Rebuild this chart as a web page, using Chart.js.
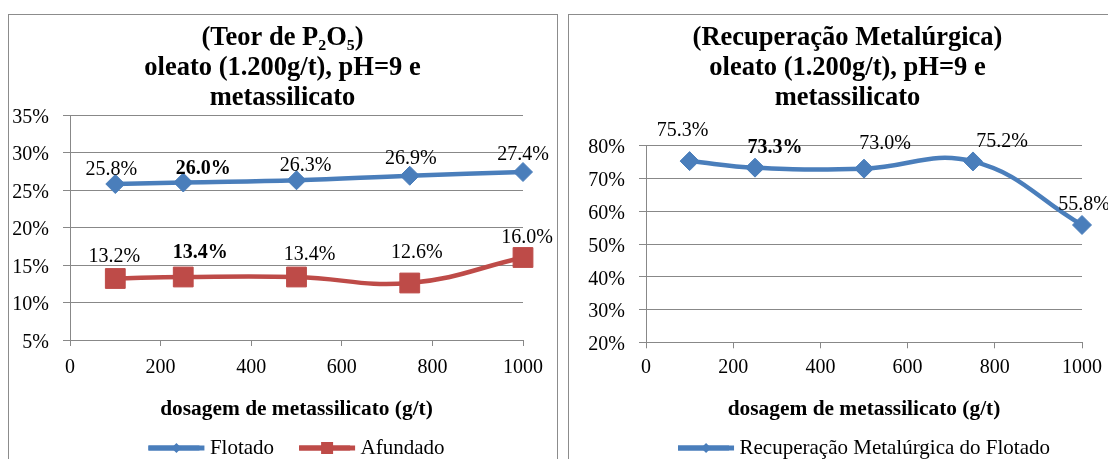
<!DOCTYPE html>
<html>
<head>
<meta charset="utf-8">
<script src="https://cdn.jsdelivr.net/npm/chart.js@4/dist/chart.umd.min.js"></script>
<style>
  html, body { margin: 0; padding: 0; background: #fff; overflow: hidden; width: 1108px; height: 459px; }
  .frame { position: absolute; top: 14px; border: 1px solid #8c8c8c; background: #fff; }
  #frameTeor { left: 8px; width: 548px; height: 470px; }
  #frameRec { left: 568px; width: 557px; height: 470px; }
  canvas { display: block; }
</style>
</head>
<body>
<div class="frame" id="frameTeor"><canvas id="chartTeor" width="547" height="460"></canvas></div>
<div class="frame" id="frameRec"><canvas id="chartRec" width="557" height="460"></canvas></div>
<script>
// dosagem de metassilicato (g/t)
const dosagens = [100, 250, 500, 750, 1000];
// teor de P2O5 (%)
const teorFlotado = [25.8, 26.0, 26.3, 26.9, 27.4];
const teorAfundado = [13.2, 13.4, 13.4, 12.6, 16.0];
// recuperação metalúrgica (%)
const recuperacaoFlotado = [75.3, 73.3, 73.0, 75.2, 55.8];

const xTicks = [0, 200, 400, 600, 800, 1000];
const teorTicks = [5, 10, 15, 20, 25, 30, 35];
const recTicks = [20, 30, 40, 50, 60, 70, 80];

const tituloTeor = ['(Teor de P\u2082O\u2085)', 'oleato (1.200g/t), pH=9 e', 'metassilicato'];
const tituloRec = ['(Recuperação Metalúrgica)', 'oleato (1.200g/t), pH=9 e', 'metassilicato'];
const tituloEixoX = 'dosagem de metassilicato (g/t)';

const SERIF = '"Liberation Serif", "Times New Roman", serif';
const BLUE = '#4A7EBB';
const RED = '#BE4B48';
const GRID = '#888888';

Chart.defaults.font.family = SERIF;
Chart.defaults.color = '#000';

const pts = (xs, ys) => xs.map((x, i) => ({ x, y: ys[i] }));

// value labels above each point ("25.8%"), one highlighted point per series in bold
const valueLabels = {
  id: 'valueLabels',
  afterDatasetsDraw(chart, args, opts) {
    const ctx = chart.ctx;
    chart.data.datasets.forEach((ds, di) => {
      const meta = chart.getDatasetMeta(di);
      const shifts = (opts.shifts && opts.shifts[di]) || [];
      meta.data.forEach((el, i) => {
        const v = ds.data[i].y;
        const s = shifts[i] || [0, -18];
        ctx.save();
        ctx.font = (i === opts.boldIndex ? 'bold ' : '') + opts.size + 'px ' + SERIF;
        ctx.fillStyle = '#000';
        ctx.textAlign = 'center';
        ctx.textBaseline = 'middle';
        ctx.fillText(v.toFixed(1) + '%', el.x + s[0], el.y + s[1]);
        ctx.restore();
      });
    });
  }
};

// legend sample: a thick line with the series marker in the middle
const legendMarkers = {
  id: 'legendMarkers',
  afterDraw(chart, args, opts) {
    const lg = chart.legend;
    if (!lg || !lg.legendHitBoxes) return;
    const ctx = chart.ctx;
    lg.legendHitBoxes.forEach((hb, i) => {
      const item = lg.legendItems[i];
      const ds = chart.data.datasets[item.datasetIndex];
      const cy = hb.top + hb.height / 2;
      const cx = hb.left + opts.length / 2;
      ctx.save();
      ctx.fillStyle = ds.borderColor;
      ctx.fillRect(hb.left, cy - opts.thickness / 2, opts.length, opts.thickness);
      ctx.beginPath();
      if (ds.pointStyle === 'rect') {
        const h = opts.square;
        ctx.rect(cx - h, cy - h, 2 * h, 2 * h);
      } else {
        const h = opts.diamond;
        ctx.moveTo(cx, cy - h); ctx.lineTo(cx + h, cy); ctx.lineTo(cx, cy + h); ctx.lineTo(cx - h, cy);
        ctx.closePath();
      }
      ctx.fill();
      ctx.restore();
    });
  }
};

function lineLegendLabels(chart) {
  return Chart.defaults.plugins.legend.labels.generateLabels(chart).map(l => {
    const ds = chart.data.datasets[l.datasetIndex];
    return Object.assign(l, { fillStyle: ds.borderColor, strokeStyle: ds.borderColor, lineWidth: 0 });
  });
}

function serie(label, data, color, style, radius) {
  return {
    label, data,
    borderColor: color, backgroundColor: color,
    borderWidth: 4.5,
    pointStyle: style, pointRadius: radius, pointHoverRadius: radius,
    pointBackgroundColor: color, pointBorderColor: color, pointBorderWidth: 1,
    tension: 0.42, clip: false
  };
}

function buildOptions(cfg) {
  return {
    responsive: false,
    animation: false,
    events: [],
    layout: { padding: { left: 0, right: 0, top: 0, bottom: 6.5 } },
    scales: {
      x: {
        type: 'linear', min: 0, max: 1000,
        afterBuildTicks: s => { s.ticks = xTicks.map(v => ({ value: v })); },
        afterFit: s => { s.height = cfg.xHeight; },
        grid: { drawOnChartArea: false, drawTicks: true, tickLength: 6, color: GRID, lineWidth: 1 },
        border: { display: true, color: GRID, width: 1 },
        ticks: { padding: cfg.xTickPad, font: { size: 20 }, color: '#000', maxRotation: 0, callback: v => String(v) },
        title: { display: true, text: tituloEixoX, font: { size: 21.4, weight: 'bold', lineHeight: 1 }, color: '#000', padding: { top: 0, bottom: -8 } }
      },
      y: {
        type: 'linear', position: 'left', min: cfg.yTicks[0], max: cfg.yTicks[cfg.yTicks.length - 1],
        afterBuildTicks: s => { s.ticks = cfg.yTicks.map(v => ({ value: v })); },
        afterFit: s => { s.width = cfg.yWidth; },
        grid: { drawOnChartArea: true, drawTicks: true, tickLength: 7, color: GRID, lineWidth: 1 },
        border: { display: true, color: GRID, width: 1 },
        ticks: { padding: 14, labelOffset: 2.5, font: { size: 20 }, color: '#000', callback: v => v + '%' }
      },
      // empty right-hand margin so the title stays centred on the whole frame
      margem: {
        type: 'linear', position: 'right', display: true,
        afterFit: s => { s.width = cfg.rightGap; },
        grid: { display: false, drawTicks: false },
        border: { display: false },
        ticks: { display: false }
      }
    },
    plugins: {
      title: {
        display: true, text: cfg.title, color: '#000',
        font: { size: 26.5, weight: 'bold', lineHeight: 30 / 26.5 },
        padding: { top: 8, bottom: cfg.titlePadB }
      },
      legend: {
        position: 'bottom', fullSize: false,
        labels: { boxWidth: 51, boxHeight: 5, padding: 25, font: { size: 21 }, color: '#000', generateLabels: lineLegendLabels }
      },
      tooltip: { enabled: false },
      valueLabels: { size: 20, boldIndex: 1, shifts: cfg.shifts },
      legendMarkers: { length: 56, thickness: 5, diamond: 5, square: 6 }
    }
  };
}

new Chart(document.getElementById('chartTeor'), {
  type: 'line',
  data: {
    datasets: [
      serie('Flotado', pts(dosagens, teorFlotado), BLUE, 'rectRot', 9.5),
      serie('Afundado', pts(dosagens, teorAfundado), RED, 'rect', 14)
    ]
  },
  options: buildOptions({
    title: tituloTeor, yWidth: 61, rightGap: 33, xHeight: 72.5, xTickPad: 10,
    titlePadB: 2, yTicks: teorTicks,
    shifts: [
      [[-4, -14], [20, -13.5], [9, -15], [1, -17], [0, -17]],
      [[-1, -22], [17, -24], [13, -22], [7, -30], [4, -19.5]]
    ]
  }),
  plugins: [valueLabels, legendMarkers]
});

new Chart(document.getElementById('chartRec'), {
  type: 'line',
  data: {
    datasets: [
      serie('Recuperação Metalúrgica do Flotado', pts(dosagens, recuperacaoFlotado), BLUE, 'rectRot', 9.5)
    ]
  },
  options: buildOptions({
    title: tituloRec, yWidth: 77, rightGap: 44, xHeight: 70.2, xTickPad: 7.7,
    titlePadB: 32.7, yTicks: recTicks,
    shifts: [
      [[-7, -30], [20, -20], [21, -25], [29, -20], [2, -20]]
    ]
  }),
  plugins: [valueLabels, legendMarkers]
});
</script>
</body>
</html>
